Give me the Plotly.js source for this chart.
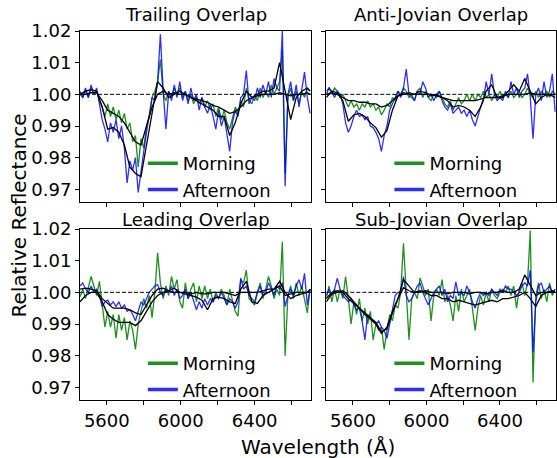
<!DOCTYPE html>
<html>
<head>
<meta charset="utf-8">
<script src="https://cdn.plot.ly/plotly-3.0.1.min.js"></script>
<style>html,body{margin:0;padding:0;background:#fff;}#chart{width:557px;height:458px;}</style>
</head>
<body>
<div id="chart"></div>
<script>
// ---------------- DATA ----------------
const panelTitles = ["Trailing Overlap", "Anti-Jovian Overlap", "Leading Overlap", "Sub-Jovian Overlap"];
const seriesNames = ["Morning", "Afternoon"];
const xTickVals = [5600, 5800, 6000, 6200, 6400, 6600];
const xTickText = ["5600", "", "6000", "", "6400", ""];
const yTickVals = [0.97, 0.98, 0.99, 1.00, 1.01, 1.02];
const yTickText = ["0.97", "0.98", "0.99", "1.00", "1.01", "1.02"];
const referenceLevel = 1.0;

// wavelength grid of the spectra (Å)
const wavelength = [5455,5470,5485,5500,5515,5530,5545,5560,5575,5590,
  5605,5620,5635,5650,5665,5680,5695,5710,5725,5740,
  5755,5770,5785,5800,5815,5830,5845,5860,5875,5890,
  5905,5920,5935,5950,5965,5980,5995,6010,6025,6040,
  6055,6070,6085,6100,6115,6130,6145,6160,6175,6190,
  6205,6220,6235,6250,6265,6280,6295,6310,6325,6340,
  6355,6370,6385,6400,6415,6430,6445,6460,6475,6490,
  6505,6520,6535,6550,6565,6580,6595,6610,6625,6640,
  6655,6670,6685,6700];
// wavelength grid of the smoothed curves (Å)
const wavelengthSmooth = [5455,5485,5515,5545,5575,5605,5635,5665,5695,5725,
  5755,5785,5815,5845,5875,5905,5935,5965,5995,6025,
  6055,6085,6115,6145,6175,6205,6235,6265,6295,6325,
  6355,6385,6415,6445,6475,6505,6535,6565,6595,6625,
  6655,6685,6700];

// Trailing
const trailingMorning = [1.000,0.999,1.001,0.999,1.002,1.000,1.001,0.998,0.996,0.993,
  0.997,0.993,0.996,0.992,0.995,0.991,0.994,0.989,0.991,0.985,
  0.987,0.977,0.986,0.983,0.990,0.993,0.999,1.001,1.004,1.011,
  1.000,0.998,1.001,0.999,1.002,1.000,1.002,0.999,1.001,0.998,
  1.000,0.997,0.999,0.997,0.999,0.996,0.998,0.995,0.997,0.993,
  0.996,0.992,0.995,0.991,0.989,0.993,0.996,0.994,0.998,0.996,
  1.002,0.998,0.997,1.000,0.998,1.002,0.999,1.001,0.999,1.003,
  1.000,1.002,1.004,1.014,0.975,0.999,1.002,0.998,1.001,0.997,
  1.001,0.999,1.002,1.001];
const trailingAfternoon = [1.001,0.999,1.002,0.999,1.003,1.000,1.002,0.997,0.992,0.989,
  0.985,0.991,0.988,0.992,0.986,0.990,0.983,0.972,0.979,0.976,
  0.980,0.969,0.976,0.982,0.988,0.993,0.999,0.998,1.004,1.019,
  1.001,0.989,1.001,0.998,1.003,0.999,1.004,0.998,1.001,0.997,
  1.002,0.998,1.000,0.995,0.999,0.996,0.994,0.997,0.993,0.989,
  0.995,0.990,0.993,0.988,0.982,0.991,0.995,0.993,0.999,1.000,
  1.0075,0.997,0.999,0.998,1.002,0.999,1.003,1.000,1.004,0.999,
  1.005,1.002,1.001,1.020,0.971,1.000,1.004,0.998,1.003,0.996,
  1.001,1.007,0.999,0.994];
const trailingMorningSmooth = [1.000,1.000,1.0005,1.0005,0.998,0.995,0.994,0.993,0.991,0.988,
  0.985,0.984,0.990,0.996,1.000,1.001,1.000,1.0005,1.000,1.000,
  0.999,0.9985,0.998,0.9975,0.9965,0.996,0.995,0.994,0.9945,0.996,
  0.998,0.999,0.9995,1.000,1.000,1.000,1.0005,1.000,0.9995,1.000,
  1.000,1.0005,1.000];
const trailingAfternoonSmooth = [1.000,1.001,1.0015,1.001,0.996,0.989,0.9895,0.988,0.984,0.977,
  0.975,0.974,0.984,0.994,1.004,1.002,0.999,1.000,1.001,1.000,
  0.999,0.998,0.997,0.996,0.995,0.993,0.993,0.987,0.991,0.997,
  1.001,0.999,1.000,1.001,1.001,1.002,1.010,1.001,0.992,0.999,
  1.001,1.002,1.001];

// Anti-Jovian
const antiMorning = [1.001,1.002,1.000,1.002,1.001,0.999,1.000,0.998,0.996,0.998,
  0.996,0.997,0.995,0.997,0.996,0.998,0.996,0.997,0.995,0.996,
  0.9935,0.995,0.997,0.996,0.999,0.998,1.001,1.000,1.002,1.001,
  0.999,1.000,0.998,1.001,1.002,0.999,1.001,0.999,0.998,1.000,
  0.999,1.001,0.999,0.997,0.996,0.998,0.995,0.997,0.999,0.997,
  0.998,1.000,0.998,1.000,0.998,1.000,0.999,1.001,0.999,1.000,
  0.998,1.000,0.999,1.001,0.999,1.000,0.999,1.001,0.999,1.000,
  1.001,0.999,1.000,1.002,1.000,0.999,1.001,0.999,1.001,1.000,
  1.001,0.999,1.001,1.000];
const antiAfternoon = [1.000,1.002,1.001,0.999,1.001,1.000,0.997,0.991,0.988,0.990,
  0.993,0.995,0.993,0.9935,0.992,0.993,0.990,0.9895,0.988,0.986,
  0.982,0.987,0.990,0.995,0.997,0.999,1.001,0.999,1.002,1.008,
  1.000,0.999,0.998,1.001,1.000,1.004,1.002,0.999,1.000,0.998,
  1.000,1.001,0.998,0.996,0.995,0.997,0.994,0.995,0.996,0.994,
  0.995,0.993,0.995,0.992,0.990,0.993,0.996,0.998,1.004,1.000,
  1.0065,1.000,0.998,0.999,0.998,1.001,0.999,1.004,1.000,1.002,
  0.999,1.001,1.002,1.0065,0.999,0.986,1.000,1.002,0.998,1.004,
  0.999,1.001,1.0065,0.9945];
const antiMorningSmooth = [1.000,1.0005,1.000,0.999,0.998,0.998,0.9975,0.9975,0.997,0.997,
  0.996,0.9965,0.998,0.9995,1.000,1.0005,1.000,1.000,1.000,1.000,
  0.9995,0.999,0.9985,0.998,0.998,0.998,0.998,0.998,0.9985,0.999,
  0.999,0.999,0.9995,1.000,1.000,1.000,1.000,1.0005,1.000,1.000,
  1.000,1.000,1.000];
const antiAfternoonSmooth = [0.999,1.001,1.0005,0.998,0.9915,0.9935,0.994,0.993,0.991,0.9895,
  0.9865,0.9885,0.995,0.9995,1.0005,1.000,1.000,1.001,1.0005,0.9995,
  1.000,0.999,0.998,0.996,0.9965,0.996,0.995,0.993,0.996,1.001,
  1.003,0.999,0.999,1.001,1.003,1.001,1.005,1.001,0.997,0.999,
  1.000,0.9995,0.999];

// Leading
const leadingMorning = [0.9985,1.001,0.998,1.0015,1.005,1.002,0.999,1.0035,0.996,0.989,
  0.994,0.989,0.993,0.9855,0.993,0.988,0.992,0.985,0.991,0.988,
  0.982,0.990,0.994,0.998,0.995,0.999,0.992,1.000,1.0125,1.003,
  0.998,1.002,0.999,1.005,1.001,1.004,0.997,0.995,1.003,0.998,
  1.001,1.003,0.997,1.002,0.998,1.002,0.998,1.001,0.997,1.000,
  0.998,1.001,0.999,0.996,1.001,0.997,0.994,0.9925,1.004,1.003,
  1.007,0.998,0.997,0.996,1.000,1.003,0.998,1.001,1.005,1.002,
  0.998,1.001,0.999,1.016,0.980,0.999,1.002,0.998,1.003,0.999,
  1.002,0.998,0.9935,1.001];
const leadingAfternoon = [1.002,1.003,1.001,1.000,1.002,1.000,1.001,0.999,0.9955,0.997,
  0.9975,0.996,0.997,0.9955,0.997,0.995,0.996,0.994,0.9945,0.993,
  0.991,0.994,0.997,0.996,0.998,1.000,1.001,1.002,1.0025,1.000,
  0.999,1.001,1.000,1.002,0.999,1.001,0.998,0.999,1.001,0.998,
  1.000,0.997,0.9945,0.997,0.995,0.998,0.996,0.998,0.997,0.999,
  0.998,1.000,0.998,0.996,0.998,0.997,0.995,0.997,1.0045,1.001,
  1.002,0.999,0.998,0.997,1.000,1.002,0.999,1.000,1.003,1.001,
  0.999,1.002,1.001,1.003,0.9955,0.999,1.001,0.999,1.002,1.004,
  1.001,1.006,0.996,1.001];
const leadingMorningSmooth = [0.997,0.999,1.000,1.000,0.997,0.993,0.9915,0.9905,0.9905,0.9905,
  0.9895,0.991,0.994,0.997,0.999,1.000,1.0005,1.0013,1.000,0.9995,
  0.999,0.9985,0.9975,0.9945,0.998,0.9985,0.998,0.997,0.9965,1.001,
  1.0035,0.997,0.9965,0.999,1.000,1.001,1.0035,1.000,0.998,0.999,
  0.9995,1.000,1.001];
const leadingAfternoonSmooth = [1.001,1.0013,1.001,1.0005,0.998,0.9965,0.995,0.995,0.995,0.9945,
  0.9935,0.993,0.996,0.999,1.001,1.0013,1.0005,1.000,1.000,1.000,
  0.9995,1.000,0.9995,0.9995,1.000,1.000,1.000,0.9995,0.999,1.000,
  1.000,1.000,1.000,1.0005,1.001,1.001,1.002,0.999,0.9995,1.000,
  1.000,1.000,1.0005];

// Sub-Jovian
const subMorning = [0.998,1.002,0.997,1.001,0.997,1.001,0.998,1.005,0.998,0.990,
  0.997,0.993,0.998,0.991,0.995,0.990,0.994,0.985,0.990,0.988,
  0.989,0.982,0.988,0.993,0.991,0.996,0.995,1.000,1.0155,1.002,
  0.985,0.998,1.000,0.998,1.0045,1.002,0.999,1.001,0.991,0.999,
  1.001,0.999,1.004,0.997,0.999,0.996,0.991,0.999,0.994,1.001,
  0.997,0.999,1.001,0.995,0.988,0.995,0.999,0.996,1.000,0.997,
  1.001,0.999,0.998,1.000,1.001,1.000,1.002,0.999,1.002,0.995,
  1.001,1.003,0.999,1.003,1.0195,0.9715,0.999,1.003,0.998,1.001,
  0.997,1.003,0.999,1.001];
const subAfternoon = [0.999,1.001,0.999,1.001,1.0045,1.001,0.999,0.998,0.997,0.998,
  0.996,0.9945,0.995,0.991,0.985,0.993,0.992,0.991,0.990,0.991,
  0.989,0.988,0.9855,0.990,0.994,0.999,1.000,1.000,1.005,0.999,
  0.997,0.998,1.000,1.002,1.003,1.000,0.998,0.996,0.998,1.000,
  1.001,1.002,0.999,1.001,0.997,0.999,0.998,1.0033,0.999,1.000,
  0.999,1.002,1.000,0.997,0.995,0.998,1.000,0.999,1.000,0.999,
  1.001,1.000,0.999,1.001,1.000,1.002,1.001,1.001,1.000,0.999,
  1.000,1.002,1.003,1.002,1.007,0.981,0.997,1.002,1.003,1.000,
  1.001,1.002,1.000,1.001];
const subMorningSmooth = [0.997,0.9995,1.000,1.0005,0.999,0.997,0.995,0.993,0.9915,0.990,
  0.987,0.989,0.994,0.998,1.004,1.002,1.000,1.0005,1.000,0.999,
  0.999,0.998,0.998,0.997,0.9975,0.997,0.9965,0.996,0.9965,0.997,
  0.9975,0.997,0.998,0.998,0.9985,0.999,1.000,0.998,0.9955,0.999,
  1.000,1.000,1.000];
const subAfternoonSmooth = [0.998,1.000,1.0005,1.000,0.998,0.9965,0.995,0.9935,0.992,0.9905,
  0.9875,0.9885,0.9935,0.998,1.0015,1.0005,1.000,1.000,1.0005,1.000,
  1.000,1.000,0.9995,1.000,1.000,1.000,0.9995,1.000,1.000,0.9995,
  1.000,1.000,1.0005,1.000,1.000,1.001,1.0055,1.002,0.999,1.000,
  1.000,1.0005,1.000];

// ---------------- CHART ----------------
const FONT = "DejaVu Sans, Liberation Sans, sans-serif";
const GREEN = "rgba(0,128,0,0.88)";
const BLUE = "rgba(0,0,255,0.82)";

const panels = [
  {m: trailingMorning, a: trailingAfternoon, ms: trailingMorningSmooth, as: trailingAfternoonSmooth},
  {m: antiMorning, a: antiAfternoon, ms: antiMorningSmooth, as: antiAfternoonSmooth},
  {m: leadingMorning, a: leadingAfternoon, ms: leadingMorningSmooth, as: leadingAfternoonSmooth},
  {m: subMorning, a: subAfternoon, ms: subMorningSmooth, as: subAfternoonSmooth}
];

const traces = [];
const shapes = [];
const annotations = [];
panels.forEach((p, k) => {
  const xa = k === 0 ? "x" : "x" + (k + 1);
  const ya = k === 0 ? "y" : "y" + (k + 1);
  const lg = k === 0 ? "legend" : "legend" + (k + 1);
  traces.push({x: wavelength, y: p.m, xaxis: xa, yaxis: ya, type: "scatter", mode: "lines",
    line: {color: GREEN, width: 1.3}, showlegend: false, hoverinfo: "skip"});
  traces.push({x: wavelength, y: p.a, xaxis: xa, yaxis: ya, type: "scatter", mode: "lines",
    line: {color: BLUE, width: 1.3}, showlegend: false, hoverinfo: "skip"});
  traces.push({x: wavelengthSmooth, y: p.ms, xaxis: xa, yaxis: ya, type: "scatter", mode: "lines",
    line: {color: "black", width: 1.3}, showlegend: false, hoverinfo: "skip"});
  traces.push({x: wavelengthSmooth, y: p.as, xaxis: xa, yaxis: ya, type: "scatter", mode: "lines",
    line: {color: "black", width: 1.3}, showlegend: false, hoverinfo: "skip"});
  // legend entries
  traces.push({x: [null], y: [null], xaxis: xa, yaxis: ya, type: "scatter", mode: "lines",
    name: seriesNames[0], legend: lg, line: {color: GREEN, width: 3.5}, showlegend: true});
  traces.push({x: [null], y: [null], xaxis: xa, yaxis: ya, type: "scatter", mode: "lines",
    name: seriesNames[1], legend: lg, line: {color: BLUE, width: 3.5}, showlegend: true});
  shapes.push({type: "line", xref: xa + " domain", yref: ya, x0: 0, x1: 1, y0: referenceLevel, y1: referenceLevel,
    line: {color: "black", width: 1, dash: "4px,2px"}, layer: "below"});
  annotations.push({text: panelTitles[k], xref: xa + " domain", yref: ya + " domain", x: 0.5, y: 1,
    xanchor: "center", yanchor: "bottom", yshift: k < 2 ? 4 : -3, showarrow: false,
    font: {family: FONT, size: 18, color: "black"}});
});

annotations.push({text: "Wavelength (Å)", xref: "paper", yref: "paper", x: 0.5, y: -0.127,
  xanchor: "center", yanchor: "middle", showarrow: false, font: {family: FONT, size: 20, color: "black"}});
annotations.push({text: "Relative Reflectance", xref: "paper", yref: "paper", x: -0.13, y: 0.5,
  xanchor: "center", yanchor: "middle", textangle: -90, showarrow: false, font: {family: FONT, size: 20, color: "black"}});

function xAxis(domain, labels, anchor) {
  return {domain: domain, range: [5455, 6705], anchor: anchor, tickmode: "array", tickvals: xTickVals,
    ticktext: xTickText, showticklabels: labels, ticks: "outside", ticklen: 4, tickwidth: 1, tickcolor: "black",
    showline: true, mirror: true, linecolor: "black", linewidth: 1, showgrid: false, zeroline: false,
    tickfont: {family: FONT, size: 18, color: "black"}};
}
function yAxis(domain, labels, anchor) {
  return {domain: domain, range: [0.966, 1.02], anchor: anchor, tickmode: "array", tickvals: yTickVals,
    ticktext: yTickText, showticklabels: labels, ticks: "outside", ticklen: 4, tickwidth: 1, tickcolor: "black",
    showline: true, mirror: true, linecolor: "black", linewidth: 1, showgrid: false, zeroline: false,
    tickfont: {family: FONT, size: 18, color: "black"}};
}
const colL = [0, 0.4853], colR = [0.5174, 1];
const rowT = [0.5366, 1], rowB = [0, 0.4634];
function legendAt(x, y) {
  return {x: x, y: y, xanchor: "left", yanchor: "top", bgcolor: "rgba(0,0,0,0)", borderwidth: 0,
    font: {family: FONT, size: 18, color: "black"}, itemwidth: 30, tracegroupgap: 0};
}

const layout = {
  width: 557, height: 458,
  margin: {l: 80, r: 1, t: 31, b: 58, pad: 0},
  paper_bgcolor: "white", plot_bgcolor: "white",
  showlegend: true,
  xaxis: xAxis(colL, false, "y"), yaxis: yAxis(rowT, true, "x"),
  xaxis2: xAxis(colR, false, "y2"), yaxis2: yAxis(rowT, false, "x2"),
  xaxis3: xAxis(colL, true, "y3"), yaxis3: yAxis(rowB, true, "x3"),
  xaxis4: xAxis(colR, true, "y4"), yaxis4: yAxis(rowB, false, "x4"),
  legend: legendAt(0.132, 0.691), legend2: legendAt(0.650, 0.691),
  legend3: legendAt(0.132, 0.149), legend4: legendAt(0.650, 0.149),
  shapes: shapes, annotations: annotations
};

Plotly.newPlot("chart", traces, layout, {staticPlot: true, displayModeBar: false});
</script>
</body>
</html>
